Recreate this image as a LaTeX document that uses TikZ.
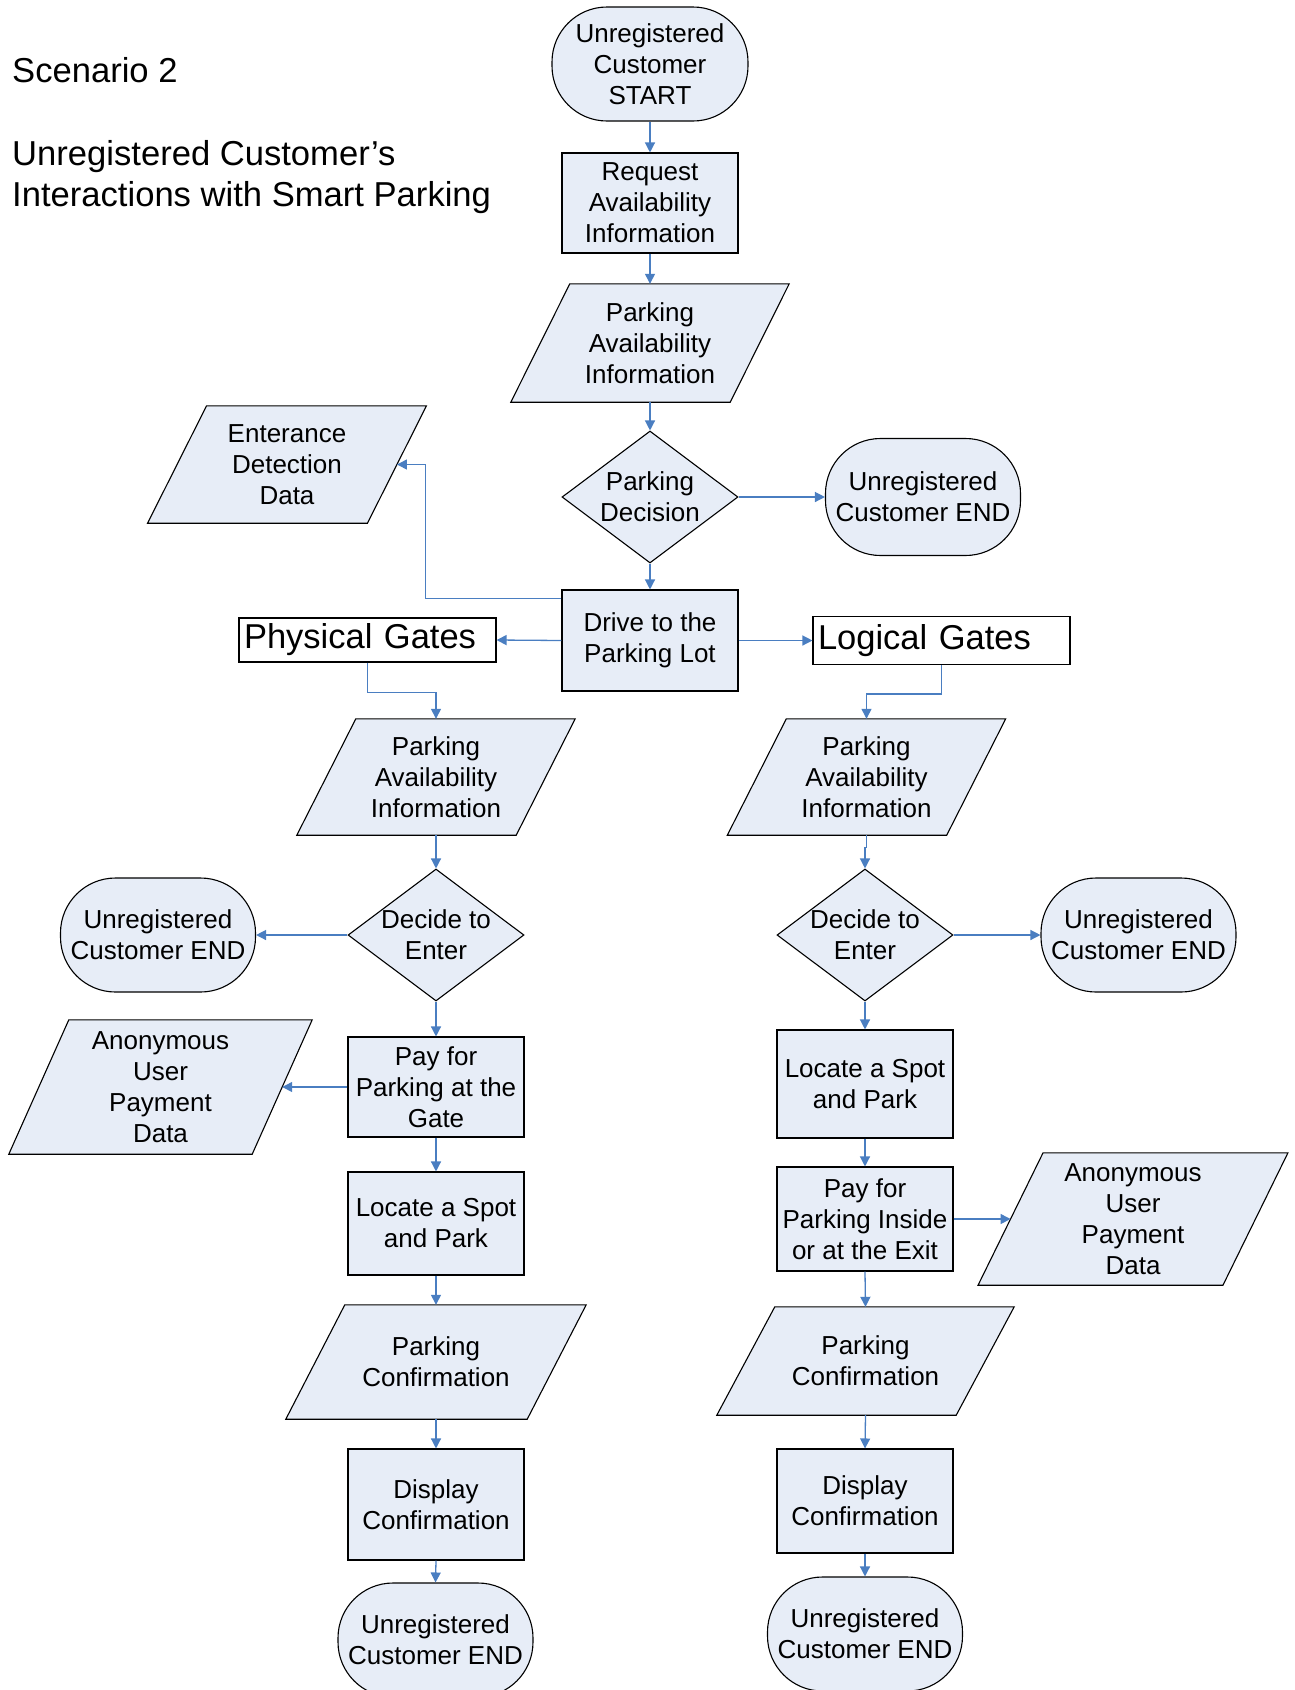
\documentclass[tikz,border=0pt]{standalone}
\usepackage{fontspec}
\setmainfont{Liberation Sans}
\usetikzlibrary{arrows.meta,shapes.geometric,calc,backgrounds}
\definecolor{bfill}{RGB}{231,237,247}
\definecolor{acol}{RGB}{74,126,193}
\newcommand\parash[2]{%
  \path[draw=black, fill=bfill, line width=1.1pt]
    ($(#1.north west)+(#2,0)$) -- ($(#1.north east)+(#2,0)$) --
    ($(#1.south east)+(-#2,0)$) -- ($(#1.south west)+(-#2,0)$) -- cycle;}
\begin{document}
\begin{tikzpicture}[x=1pt,y=-1pt,
  every node/.style={font=\fontsize{26}{31}\selectfont, align=center, inner sep=2pt},
  term/.style={draw=black, fill=bfill, line width=1.1pt, rounded corners=55pt, minimum width=195pt, minimum height=114pt},
  proc/.style={draw=black, fill=bfill, line width=1.1pt, minimum width=176pt},
  dia/.style={diamond, draw=black, fill=bfill, line width=1.1pt, minimum width=176pt, minimum height=132pt, inner sep=0pt, aspect=1.33},
  gate/.style={draw=black, line width=1.1pt, font=\fontsize{34.5}{40}\selectfont, text width=247pt, align=left, inner xsep=5pt, inner ysep=0pt, minimum height=44pt},
  ttl/.style={font=\fontsize{34.6}{41}\selectfont, align=left, inner sep=0pt},
  arr/.style={draw=acol, line width=1.3pt, -{Triangle[length=10pt,width=10pt]}}
]
\path[use as bounding box] (0,0) rectangle (1294,1690);
\clip (0,0) rectangle (1294,1690);

% titles
\node[ttl, anchor=base west] (t1) at (12,82) {Scenario 2};
\node[ttl, anchor=north west] (t2) at (12,140) {Unregistered Customer’s\\Interactions with Smart Parking};

% top column
\node[term, minimum width=196pt] (start) at (650,64) {Unregistered\\Customer\\START};
\node[proc, minimum height=100pt] (req) at (650,203) {Request\\Availability\\Information};
\node[minimum width=219pt, minimum height=118pt] (p1) at (650,343) {Parking\\Availability\\Information};
\node[dia, label={center:{Parking\\Decision}}] (dec) at (650,497) {};
\node[term, minimum height=117pt] (endA) at (923,497) {Unregistered\\Customer END};
\node[minimum width=219.5pt, minimum height=117pt] (ent) at (287,464.5) {Enterance\\Detection\\Data};
\node[proc, minimum height=101pt] (drive) at (650,640.5) {Drive to the\\Parking Lot};
\node[gate] (pg) at (367.5,640) {Physical Gates};
\node[gate, minimum height=48pt] (lg) at (941.5,640.5) {Logical Gates};

% left column
\node[minimum width=219pt, minimum height=116pt] (pl) at (436,777) {Parking\\Availability\\Information};
\node[dia, label={center:{Decide to\\Enter}}] (dL) at (436,935) {};
\node[term] (eL) at (158,935) {Unregistered\\Customer END};
\node[proc, minimum height=100pt] (payL) at (436,1087) {Pay for\\Parking at the\\Gate};
\node[minimum width=243pt, minimum height=134pt] (aL) at (160.5,1087) {Anonymous\\User\\Payment\\Data};
\node[proc, minimum height=103pt] (locL) at (436,1223.5) {Locate a Spot\\and Park};
\node[minimum width=241pt, minimum height=114pt] (cL) at (436,1362) {Parking\\Confirmation};
\node[proc, minimum height=111pt] (dispL) at (436,1504.5) {Display\\Confirmation};
\node[term] (bL) at (435.5,1640) {Unregistered\\Customer END};

% right column
\node[minimum width=219pt, minimum height=116pt] (pr) at (866.5,777) {Parking\\Availability\\Information};
\node[dia, label={center:{Decide to\\Enter}}] (dR) at (865,935) {};
\node[term] (eR) at (1138.5,935) {Unregistered\\Customer END};
\node[proc, minimum height=108pt] (locR) at (865,1084) {Locate a Spot\\and Park};
\node[proc, minimum height=104pt] (payR) at (865,1219) {Pay for\\Parking Inside\\or at the Exit};
\node[minimum width=244.5pt, minimum height=132pt] (aR) at (1133,1219) {Anonymous\\User\\Payment\\Data};
\node[minimum width=239pt, minimum height=108pt] (cR) at (865.5,1361) {Parking\\Confirmation};
\node[proc, minimum height=104pt] (dispR) at (865,1501) {Display\\Confirmation};
\node[term] (bR) at (865,1634) {Unregistered\\Customer END};

% parallelogram outlines
\begin{scope}[on background layer]
  \parash{p1}{29.5}
  \parash{ent}{29.5}
  \parash{pl}{29.5}
  \parash{pr}{29.5}
  \parash{aL}{30}
  \parash{aR}{32.5}
  \parash{cL}{29.5}
  \parash{cR}{29}
\end{scope}

% connectors
\draw[arr] (start.south) -- (req.north);
\draw[arr] (req.south) -- (p1.north);
\draw[arr] (p1.south) -- (dec.north);
\draw[arr] (dec.east) -- (endA.west);
\draw[arr] (dec.south) -- (drive.north);
\draw[arr] ([yshift=-9pt]drive.north west) -- ++(-136,0) |- (ent.east);
\draw[arr] (drive.west) -- (pg.east);
\draw[arr] (drive.east) -- (lg.west);
\draw[arr] (pg.south) -- ++(0,30) -| (pl.north);
\draw[arr] (lg.south) -- ++(0,29) -| (pr.north);

\draw[arr] (pl.south) -- (dL.north);
\draw[arr] (dL.west) -- (eL.east);
\draw[arr] (dL.south) -- (payL.north);
\draw[arr] (payL.west) -- (aL.east);
\draw[arr] (payL.south) -- (locL.north);
\draw[arr] (locL.south) -- (cL.north);
\draw[arr] (cL.south) -- (dispL.north);
\draw[arr] (dispL.south) -- (bL.north);

\draw[arr] (pr.south) -- ++(0,12) -| (dR.north);
\draw[arr] (dR.east) -- (eR.west);
\draw[arr] (dR.south) -- (locR.north);
\draw[arr] (locR.south) -- (payR.north);
\draw[arr] (payR.east) -- (aR.west);
\draw[arr] (payR.south) -- (cR.north);
\draw[arr] (cR.south) -- (dispR.north);
\draw[arr] (dispR.south) -- (bR.north);
\end{tikzpicture}
\end{document}
